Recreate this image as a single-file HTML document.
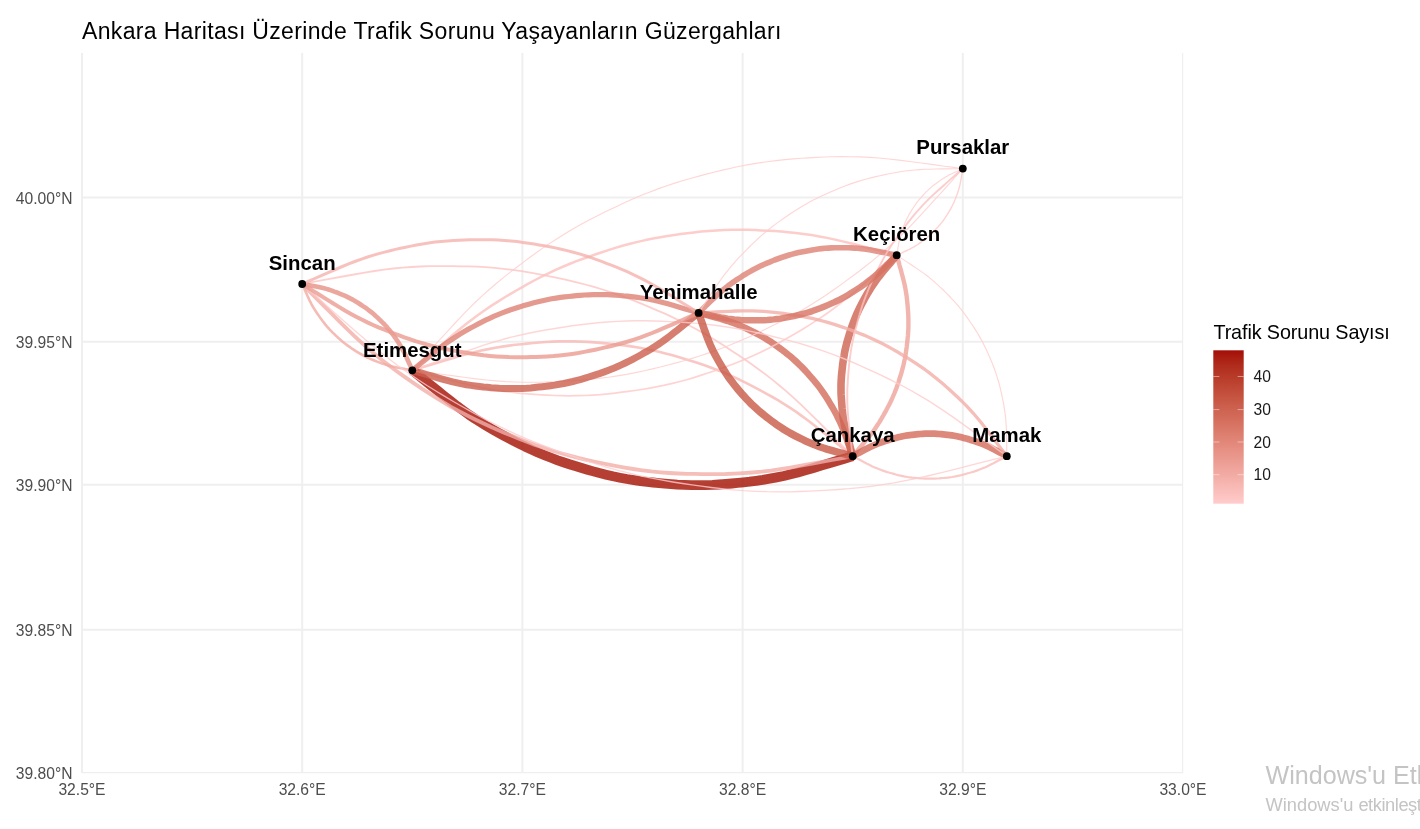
<!DOCTYPE html>
<html><head><meta charset="utf-8"><title>Ankara</title>
<style>html,body{margin:0;padding:0;background:#fff;overflow:hidden}svg{display:block;position:absolute;left:0;top:0;will-change:transform}text{font-family:"Liberation Sans",sans-serif}</style></head><body>
<svg width="1420" height="829" viewBox="0 0 1420 829">
<rect width="1420" height="829" fill="#fff"/>
<clipPath id="pc"><rect x="82.0" y="53.0" width="1101.0" height="720.0"/></clipPath>
<clipPath id="gc"><rect x="80.0" y="53.0" width="1103.2" height="720.2"/></clipPath>
<g stroke="#efefef" stroke-width="2" fill="none" clip-path="url(#gc)">
<line x1="82.0" y1="53.0" x2="82.0" y2="773.0"/>
<line x1="302.2" y1="53.0" x2="302.2" y2="773.0"/>
<line x1="522.4" y1="53.0" x2="522.4" y2="773.0"/>
<line x1="742.6" y1="53.0" x2="742.6" y2="773.0"/>
<line x1="962.8" y1="53.0" x2="962.8" y2="773.0"/>
<line x1="1183.0" y1="53.0" x2="1183.0" y2="773.0"/>
<line x1="82.0" y1="197.5" x2="1183.0" y2="197.5"/>
<line x1="82.0" y1="341.7" x2="1183.0" y2="341.7"/>
<line x1="82.0" y1="484.8" x2="1183.0" y2="484.8"/>
<line x1="82.0" y1="629.7" x2="1183.0" y2="629.7"/>
<line x1="82.0" y1="773.0" x2="1183.0" y2="773.0"/>
</g>
<g clip-path="url(#pc)">
<filter id="bl" x="-5%" y="-5%" width="110%" height="110%"><feGaussianBlur stdDeviation="0.45"/></filter>
<g fill="none" stroke-linecap="butt" stroke-linejoin="round" stroke-opacity="0.8" filter="url(#bl)">
<path d="M852.7 456.2 L852.4 456.0 L850.9 454.7 L847.3 451.8 L841.8 447.4 L835.0 441.9 L827.7 436.1 L820.8 430.5 L814.2 425.3 L808.0 420.5 L802.0 416.1 L796.2 411.9 L790.2 407.9 L784.2 404.1 L778.3 400.4 L772.4 397.0 L766.7 393.8 L761.3 390.9 L756.1 388.2 L750.9 385.4 L745.5 382.7 L739.7 379.8 L733.5 376.9 L727.1 374.0 L720.5 371.3 L713.9 368.7 L707.3 366.2 L700.9 364.0 L694.8 362.0 L688.9 360.2 L683.3 358.5 L677.6 356.8 L671.7 355.1 L665.5 353.4 L658.9 351.8 L652.0 350.2 L645.1 348.8 L638.1 347.5 L631.1 346.4 L624.4 345.4 L618.0 344.6 L611.9 344.0 L606.0 343.4 L600.2 342.9 L594.1 342.4 L587.6 341.9 L580.8 341.6 L573.8 341.4 L566.7 341.3 L559.6 341.4 L552.5 341.6 L545.8 342.0 L539.3 342.5 L533.2 343.0 L527.3 343.6 L521.5 344.2 L515.4 344.8 L509.0 345.6 L502.2 346.6 L495.3 347.8 L488.3 349.1 L481.3 350.5 L474.3 352.2 L467.1 354.0 L459.6 356.1 L451.5 358.5 L443.0 361.1 L434.1 363.7 L425.7 366.3 L419.0 368.3 L414.5 369.6 L412.6 370.2 L412.3 370.3" stroke="#f8b9b5" stroke-width="2.60"/>
<path d="M852.7 456.2 L852.8 456.1 L853.4 455.4 L854.8 453.7 L856.9 451.3 L859.4 448.2 L862.2 445.0 L864.8 441.8 L867.3 438.9 L869.5 436.1 L871.6 433.4 L873.6 430.7 L875.5 428.1 L877.3 425.3 L879.1 422.6 L880.7 420.0 L882.2 417.4 L883.6 415.0 L884.9 412.6 L886.2 410.3 L887.5 407.8 L888.9 405.2 L890.3 402.4 L891.7 399.5 L893.0 396.5 L894.3 393.5 L895.5 390.5 L896.6 387.6 L897.6 384.8 L898.5 382.1 L899.3 379.5 L900.1 377.0 L901.0 374.3 L901.8 371.4 L902.6 368.4 L903.4 365.3 L904.1 362.1 L904.8 358.9 L905.4 355.8 L905.9 352.7 L906.3 349.7 L906.7 347.0 L907.0 344.3 L907.3 341.6 L907.6 338.8 L907.9 335.9 L908.1 332.7 L908.3 329.5 L908.4 326.3 L908.4 323.0 L908.4 319.8 L908.3 316.7 L908.2 313.7 L908.0 310.9 L907.8 308.2 L907.6 305.5 L907.3 302.7 L907.0 299.8 L906.7 296.7 L906.2 293.5 L905.7 290.3 L905.1 287.0 L904.4 283.8 L903.6 280.5 L902.7 277.0 L901.7 273.3 L900.7 269.3 L899.5 265.3 L898.5 261.4 L897.6 258.3 L897.0 256.2 L896.8 255.3 L896.7 255.2" stroke="#efa39a" stroke-width="4.40"/>
<path d="M852.7 456.2 L852.8 456.2 L853.4 456.6 L854.8 457.3 L857.0 458.4 L859.6 459.8 L862.4 461.3 L865.1 462.7 L867.7 464.1 L870.1 465.3 L872.4 466.4 L874.7 467.4 L876.9 468.3 L879.2 469.2 L881.5 470.1 L883.7 470.9 L885.8 471.6 L887.8 472.2 L889.7 472.8 L891.7 473.3 L893.7 473.9 L895.8 474.5 L898.1 475.1 L900.5 475.6 L902.8 476.1 L905.2 476.6 L907.6 477.0 L909.9 477.3 L912.1 477.6 L914.2 477.8 L916.3 478.0 L918.3 478.2 L920.4 478.4 L922.6 478.5 L924.9 478.6 L927.3 478.7 L929.8 478.7 L932.2 478.7 L934.6 478.6 L937.0 478.5 L939.2 478.4 L941.3 478.2 L943.3 478.0 L945.3 477.8 L947.4 477.6 L949.6 477.3 L951.9 477.0 L954.3 476.6 L956.7 476.1 L959.1 475.6 L961.4 475.1 L963.7 474.5 L965.9 473.9 L967.9 473.3 L969.8 472.8 L971.7 472.2 L973.8 471.6 L975.9 470.9 L978.1 470.1 L980.3 469.2 L982.6 468.3 L984.9 467.4 L987.1 466.4 L989.4 465.3 L991.8 464.1 L994.4 462.7 L997.1 461.3 L999.9 459.8 L1002.6 458.4 L1004.7 457.3 L1006.1 456.6 L1006.7 456.2 L1006.8 456.2" stroke="#f9bdba" stroke-width="2.20"/>
<path d="M852.7 456.2 L852.4 455.9 L850.6 454.0 L846.4 449.8 L840.0 443.4 L832.1 435.4 L823.7 427.0 L815.6 418.8 L807.9 411.3 L800.7 404.3 L793.7 397.8 L786.7 391.6 L779.7 385.7 L772.6 379.9 L765.5 374.4 L758.5 369.2 L751.7 364.3 L745.2 359.8 L739.0 355.6 L732.7 351.4 L726.1 347.0 L719.1 342.6 L711.7 338.0 L703.9 333.4 L695.9 329.0 L687.8 324.7 L679.7 320.7 L671.8 316.9 L664.3 313.4 L657.0 310.3 L650.1 307.3 L643.1 304.4 L635.8 301.4 L628.1 298.4 L619.9 295.3 L611.3 292.4 L602.6 289.5 L593.9 286.9 L585.2 284.5 L576.7 282.3 L568.6 280.4 L560.9 278.7 L553.5 277.1 L546.1 275.6 L538.4 274.1 L530.2 272.6 L521.6 271.2 L512.6 269.9 L503.6 268.8 L494.4 267.9 L485.5 267.2 L476.7 266.7 L468.4 266.4 L460.5 266.3 L453.0 266.1 L445.4 266.1 L437.5 266.1 L429.2 266.2 L420.5 266.5 L411.5 267.0 L402.3 267.7 L393.2 268.5 L384.0 269.6 L374.6 271.0 L364.6 272.6 L354.0 274.5 L342.7 276.5 L331.0 278.7 L320.0 280.7 L311.0 282.4 L305.2 283.5 L302.6 283.9 L302.2 284.0" stroke="#fcc4c3" stroke-width="1.80"/>
<path d="M852.7 456.2 L852.6 456.0 L852.3 455.1 L851.6 453.1 L850.5 450.0 L849.2 446.1 L847.7 442.0 L846.4 438.0 L845.0 434.3 L843.7 430.9 L842.5 427.7 L841.1 424.5 L839.8 421.5 L838.3 418.5 L836.9 415.5 L835.4 412.7 L833.9 410.0 L832.5 407.5 L831.1 405.2 L829.7 402.8 L828.2 400.3 L826.6 397.7 L824.9 395.1 L823.0 392.3 L821.1 389.6 L819.1 386.9 L817.1 384.3 L815.1 381.9 L813.1 379.5 L811.2 377.4 L809.4 375.3 L807.6 373.2 L805.7 371.1 L803.6 368.9 L801.4 366.6 L799.0 364.3 L796.6 362.0 L794.1 359.7 L791.7 357.6 L789.2 355.5 L786.8 353.6 L784.6 351.8 L782.4 350.1 L780.2 348.5 L777.9 346.8 L775.4 345.0 L772.8 343.2 L770.1 341.3 L767.2 339.6 L764.4 337.8 L761.5 336.2 L758.7 334.6 L756.0 333.2 L753.5 331.9 L751.0 330.7 L748.5 329.5 L745.9 328.2 L743.2 327.0 L740.3 325.7 L737.2 324.4 L734.1 323.2 L731.0 322.1 L727.8 321.0 L724.4 320.0 L720.9 318.9 L717.1 317.9 L713.1 316.8 L708.9 315.6 L704.9 314.6 L701.7 313.7 L699.6 313.1 L698.7 312.9 L698.6 312.9" stroke="#d36b5a" stroke-width="6.60"/>
<path d="M412.3 370.3 L412.6 370.5 L414.1 371.8 L417.7 374.7 L423.2 379.1 L430.0 384.6 L437.3 390.4 L444.2 396.0 L450.8 401.2 L457.0 406.0 L463.0 410.4 L468.8 414.6 L474.8 418.6 L480.8 422.4 L486.7 426.1 L492.6 429.5 L498.3 432.7 L503.7 435.6 L508.9 438.3 L514.1 441.1 L519.5 443.8 L525.3 446.7 L531.5 449.6 L537.9 452.5 L544.5 455.2 L551.1 457.8 L557.7 460.3 L564.1 462.5 L570.2 464.5 L576.1 466.3 L581.7 468.0 L587.4 469.7 L593.3 471.4 L599.5 473.1 L606.1 474.7 L613.0 476.3 L619.9 477.7 L626.9 479.0 L633.9 480.1 L640.6 481.1 L647.0 481.9 L653.1 482.5 L659.0 483.1 L664.8 483.6 L670.9 484.1 L677.4 484.6 L684.2 484.9 L691.2 485.1 L698.3 485.2 L705.4 485.1 L712.5 484.9 L719.2 484.5 L725.7 484.0 L731.8 483.5 L737.7 482.9 L743.5 482.3 L749.6 481.7 L756.0 480.9 L762.8 479.9 L769.7 478.7 L776.7 477.4 L783.7 476.0 L790.7 474.3 L797.9 472.5 L805.4 470.4 L813.5 468.0 L822.0 465.4 L830.9 462.8 L839.3 460.2 L846.0 458.2 L850.5 456.9 L852.4 456.3 L852.7 456.2" stroke="#a40e08" stroke-width="9.80"/>
<path d="M412.3 370.3 L412.7 370.4 L414.8 371.0 L419.8 372.2 L427.4 374.2 L436.8 376.6 L446.7 379.2 L456.3 381.7 L465.3 383.9 L473.8 385.9 L481.9 387.6 L489.7 389.1 L497.5 390.4 L505.4 391.6 L513.1 392.5 L520.6 393.3 L527.8 393.9 L534.5 394.4 L541.1 394.8 L547.6 395.1 L554.4 395.5 L561.6 395.7 L569.1 395.8 L576.9 395.7 L584.8 395.5 L592.7 395.1 L600.4 394.6 L608.0 393.9 L615.1 393.1 L621.9 392.2 L628.3 391.4 L634.8 390.5 L641.5 389.5 L648.6 388.3 L656.0 386.9 L663.7 385.4 L671.4 383.6 L679.0 381.7 L686.6 379.7 L693.8 377.6 L700.7 375.4 L707.1 373.3 L713.3 371.2 L719.5 369.0 L725.9 366.8 L732.6 364.3 L739.6 361.5 L746.8 358.5 L754.0 355.3 L761.2 351.9 L768.2 348.5 L774.9 345.0 L781.2 341.6 L787.1 338.2 L792.8 335.0 L798.4 331.7 L804.2 328.2 L810.4 324.4 L816.7 320.4 L823.2 316.0 L829.7 311.5 L836.0 306.8 L842.4 301.9 L848.8 296.8 L855.5 291.2 L862.5 285.1 L870.0 278.6 L877.7 271.8 L885.0 265.4 L890.9 260.3 L894.8 256.9 L896.5 255.4 L896.7 255.2" stroke="#fec8c7" stroke-width="1.70"/>
<path d="M412.3 370.3 L412.7 370.4 L415.3 370.7 L421.3 371.5 L430.5 372.8 L441.8 374.3 L453.8 375.9 L465.3 377.5 L476.2 378.9 L486.4 380.0 L496.1 380.9 L505.5 381.6 L514.8 382.0 L524.1 382.3 L533.2 382.3 L542.1 382.2 L550.6 381.9 L558.6 381.5 L566.2 381.1 L573.9 380.6 L581.9 380.1 L590.3 379.3 L599.2 378.4 L608.3 377.3 L617.5 375.9 L626.6 374.4 L635.6 372.6 L644.3 370.8 L652.6 368.9 L660.4 367.0 L667.8 365.0 L675.2 363.1 L683.0 361.0 L691.1 358.6 L699.6 356.0 L708.3 353.1 L717.1 350.0 L725.8 346.8 L734.3 343.3 L742.4 339.8 L750.2 336.4 L757.4 333.0 L764.4 329.7 L771.3 326.3 L778.5 322.8 L786.0 318.9 L793.8 314.7 L801.8 310.2 L809.8 305.4 L817.7 300.5 L825.4 295.5 L832.7 290.5 L839.6 285.6 L846.1 280.9 L852.3 276.3 L858.4 271.7 L864.8 266.8 L871.4 261.6 L878.3 255.9 L885.2 250.0 L892.2 243.8 L899.0 237.4 L905.7 230.8 L912.5 223.9 L919.5 216.4 L926.9 208.4 L934.8 199.7 L942.9 190.8 L950.5 182.3 L956.7 175.4 L960.7 170.9 L962.5 169.0 L962.8 168.6" stroke="#ffcccc" stroke-width="1.13"/>
<path d="M412.3 370.3 L412.3 370.2 L412.0 369.7 L411.4 368.3 L410.5 366.3 L409.4 363.8 L408.2 361.2 L407.1 358.7 L406.0 356.3 L405.0 354.1 L403.9 352.0 L402.9 350.0 L401.8 348.1 L400.7 346.1 L399.5 344.3 L398.4 342.5 L397.3 340.8 L396.2 339.2 L395.1 337.7 L394.1 336.2 L393.0 334.7 L391.7 333.1 L390.4 331.4 L389.1 329.7 L387.6 328.0 L386.2 326.3 L384.7 324.7 L383.2 323.2 L381.8 321.8 L380.4 320.4 L379.1 319.2 L377.8 317.9 L376.4 316.6 L374.9 315.2 L373.3 313.8 L371.6 312.4 L369.9 311.1 L368.1 309.7 L366.4 308.4 L364.6 307.2 L362.9 306.1 L361.3 305.0 L359.8 304.0 L358.3 303.0 L356.6 302.0 L354.9 301.0 L353.1 299.9 L351.1 298.9 L349.2 297.9 L347.2 296.9 L345.2 295.9 L343.3 295.1 L341.4 294.3 L339.6 293.6 L337.9 292.9 L336.2 292.2 L334.4 291.6 L332.5 290.9 L330.5 290.2 L328.4 289.5 L326.3 288.9 L324.2 288.3 L322.0 287.8 L319.7 287.3 L317.3 286.8 L314.8 286.3 L312.0 285.8 L309.2 285.3 L306.5 284.8 L304.3 284.4 L302.9 284.2 L302.3 284.0 L302.2 284.0" stroke="#e69084" stroke-width="4.60"/>
<path d="M412.3 370.3 L412.5 370.4 L413.8 370.8 L416.6 371.6 L421.1 372.9 L426.5 374.5 L432.3 376.2 L437.9 377.9 L443.1 379.4 L448.0 380.7 L452.7 381.9 L457.3 382.9 L461.8 383.9 L466.4 384.7 L470.9 385.4 L475.3 386.0 L479.5 386.5 L483.4 387.0 L487.2 387.3 L491.1 387.7 L495.0 388.0 L499.2 388.3 L503.7 388.5 L508.2 388.6 L512.9 388.6 L517.5 388.6 L522.1 388.4 L526.5 388.2 L530.7 387.9 L534.6 387.5 L538.5 387.1 L542.3 386.7 L546.2 386.3 L550.4 385.7 L554.8 385.1 L559.3 384.3 L563.8 383.5 L568.4 382.5 L572.8 381.5 L577.1 380.4 L581.2 379.3 L585.0 378.2 L588.7 377.0 L592.3 375.9 L596.1 374.7 L600.1 373.4 L604.3 371.9 L608.6 370.3 L612.9 368.6 L617.1 366.8 L621.3 364.9 L625.3 363.0 L629.1 361.1 L632.6 359.3 L636.0 357.5 L639.3 355.7 L642.8 353.7 L646.5 351.7 L650.3 349.4 L654.2 347.0 L658.1 344.5 L661.9 341.9 L665.7 339.1 L669.6 336.2 L673.6 333.1 L677.9 329.7 L682.4 326.0 L687.1 322.2 L691.5 318.6 L695.1 315.7 L697.4 313.8 L698.4 313.0 L698.6 312.9" stroke="#cc5f4d" stroke-width="7.00"/>
<path d="M896.7 255.2 L896.6 255.3 L896.0 256.0 L894.7 257.6 L892.6 260.1 L890.0 263.2 L887.3 266.4 L884.6 269.5 L882.2 272.5 L879.9 275.3 L877.8 278.0 L875.8 280.6 L874.0 283.3 L872.1 286.0 L870.4 288.7 L868.8 291.4 L867.2 293.9 L865.8 296.4 L864.5 298.7 L863.2 301.1 L861.9 303.6 L860.5 306.2 L859.1 309.0 L857.8 311.9 L856.4 314.9 L855.2 317.9 L854.0 320.9 L852.9 323.8 L851.9 326.6 L851.0 329.3 L850.1 331.8 L849.3 334.4 L848.5 337.1 L847.7 339.9 L846.8 342.9 L846.0 346.1 L845.3 349.2 L844.6 352.4 L844.1 355.6 L843.5 358.7 L843.1 361.6 L842.7 364.4 L842.4 367.1 L842.1 369.8 L841.8 372.6 L841.5 375.5 L841.3 378.6 L841.1 381.8 L841.0 385.1 L841.0 388.4 L841.0 391.6 L841.1 394.7 L841.3 397.7 L841.5 400.5 L841.7 403.2 L841.9 405.8 L842.1 408.6 L842.4 411.6 L842.8 414.7 L843.2 417.9 L843.8 421.1 L844.4 424.3 L845.0 427.6 L845.8 430.9 L846.7 434.4 L847.7 438.1 L848.8 442.0 L849.9 446.1 L851.0 450.0 L851.9 453.1 L852.4 455.1 L852.7 456.0 L852.7 456.2" stroke="#ce6351" stroke-width="7.60"/>
<path d="M896.7 255.2 L896.4 255.1 L894.2 254.5 L889.3 253.3 L881.6 251.3 L872.2 248.9 L862.3 246.3 L852.7 243.8 L843.7 241.6 L835.2 239.6 L827.1 237.9 L819.3 236.4 L811.5 235.1 L803.7 233.9 L795.9 233.0 L788.4 232.2 L781.3 231.6 L774.5 231.1 L768.0 230.7 L761.5 230.4 L754.7 230.0 L747.5 229.8 L739.9 229.7 L732.1 229.8 L724.3 230.0 L716.4 230.4 L708.6 230.9 L701.1 231.6 L693.9 232.4 L687.2 233.3 L680.7 234.1 L674.3 235.0 L667.5 236.0 L660.4 237.2 L653.0 238.6 L645.4 240.1 L637.7 241.9 L630.0 243.8 L622.5 245.8 L615.2 247.9 L608.4 250.1 L601.9 252.2 L595.8 254.3 L589.6 256.5 L583.2 258.7 L576.4 261.2 L569.4 264.0 L562.2 267.0 L555.0 270.2 L547.9 273.6 L540.9 277.0 L534.2 280.5 L527.9 283.9 L521.9 287.3 L516.3 290.5 L510.6 293.8 L504.8 297.3 L498.7 301.1 L492.3 305.1 L485.8 309.5 L479.4 314.0 L473.0 318.7 L466.7 323.6 L460.2 328.7 L453.6 334.3 L446.5 340.4 L439.1 346.9 L431.3 353.7 L424.0 360.1 L418.1 365.2 L414.3 368.6 L412.6 370.1 L412.3 370.3" stroke="#fbc1be" stroke-width="2.50"/>
<path d="M896.7 255.2 L896.8 255.1 L897.3 254.9 L898.3 254.5 L899.8 253.7 L901.8 252.9 L903.8 251.9 L905.8 251.0 L907.6 250.1 L909.3 249.3 L910.9 248.5 L912.5 247.6 L914.0 246.8 L915.4 245.9 L916.9 245.0 L918.3 244.1 L919.5 243.2 L920.8 242.3 L921.9 241.5 L923.1 240.7 L924.3 239.8 L925.5 238.8 L926.8 237.8 L928.1 236.7 L929.4 235.6 L930.7 234.4 L931.9 233.2 L933.1 232.1 L934.2 231.0 L935.2 229.9 L936.2 228.8 L937.2 227.8 L938.2 226.7 L939.2 225.5 L940.3 224.3 L941.4 222.9 L942.4 221.6 L943.5 220.2 L944.5 218.8 L945.4 217.4 L946.3 216.1 L947.1 214.9 L947.8 213.7 L948.6 212.5 L949.3 211.2 L950.1 209.8 L950.9 208.4 L951.7 206.9 L952.5 205.3 L953.2 203.8 L954.0 202.2 L954.6 200.7 L955.2 199.3 L955.7 197.9 L956.2 196.5 L956.7 195.2 L957.3 193.8 L957.8 192.3 L958.3 190.7 L958.8 189.1 L959.2 187.5 L959.7 185.8 L960.1 184.1 L960.4 182.3 L960.8 180.4 L961.2 178.4 L961.5 176.3 L961.9 174.1 L962.2 172.0 L962.5 170.3 L962.7 169.2 L962.8 168.7 L962.8 168.6" stroke="#fec8c7" stroke-width="1.40"/>
<path d="M896.7 255.2 L896.6 255.1 L895.7 255.0 L893.6 254.5 L890.4 253.9 L886.5 253.1 L882.3 252.2 L878.3 251.4 L874.5 250.7 L870.9 250.0 L867.6 249.5 L864.3 249.0 L861.0 248.6 L857.8 248.3 L854.6 248.1 L851.4 247.9 L848.5 247.8 L845.6 247.7 L842.9 247.7 L840.2 247.7 L837.4 247.7 L834.4 247.8 L831.3 247.9 L828.1 248.1 L824.8 248.3 L821.6 248.6 L818.3 249.0 L815.2 249.5 L812.3 249.9 L809.5 250.4 L806.9 250.9 L804.2 251.4 L801.4 252.0 L798.5 252.6 L795.5 253.3 L792.4 254.1 L789.2 255.0 L786.1 256.0 L783.0 257.0 L780.1 258.0 L777.3 259.0 L774.6 260.0 L772.1 261.0 L769.6 262.1 L767.0 263.1 L764.3 264.3 L761.4 265.6 L758.5 267.0 L755.6 268.5 L752.7 270.0 L749.9 271.6 L747.2 273.2 L744.6 274.7 L742.2 276.2 L740.0 277.7 L737.7 279.2 L735.3 280.7 L732.9 282.4 L730.3 284.2 L727.8 286.1 L725.2 288.2 L722.6 290.2 L720.1 292.4 L717.5 294.7 L714.9 297.1 L712.1 299.8 L709.2 302.6 L706.1 305.6 L703.2 308.4 L700.9 310.6 L699.3 312.1 L698.7 312.8 L698.6 312.9" stroke="#de8173" stroke-width="5.60"/>
<path d="M1006.8 456.2 L1006.7 456.1 L1006.1 455.8 L1004.7 455.1 L1002.6 453.9 L999.9 452.5 L997.1 451.0 L994.4 449.6 L991.8 448.3 L989.4 447.1 L987.1 446.0 L984.9 445.0 L982.6 444.0 L980.3 443.1 L978.1 442.3 L975.9 441.5 L973.8 440.8 L971.7 440.2 L969.8 439.6 L967.9 439.0 L965.9 438.4 L963.7 437.9 L961.4 437.3 L959.1 436.7 L956.7 436.2 L954.3 435.8 L951.9 435.4 L949.6 435.1 L947.4 434.8 L945.3 434.6 L943.3 434.4 L941.3 434.2 L939.2 434.0 L937.0 433.8 L934.6 433.7 L932.2 433.6 L929.8 433.6 L927.3 433.6 L924.9 433.7 L922.6 433.8 L920.4 434.0 L918.3 434.2 L916.3 434.4 L914.2 434.6 L912.1 434.8 L909.9 435.1 L907.6 435.4 L905.2 435.8 L902.8 436.2 L900.5 436.7 L898.1 437.3 L895.8 437.9 L893.7 438.4 L891.7 439.0 L889.7 439.6 L887.8 440.2 L885.8 440.8 L883.7 441.5 L881.5 442.3 L879.2 443.1 L876.9 444.0 L874.7 445.0 L872.4 446.0 L870.1 447.1 L867.7 448.3 L865.1 449.6 L862.4 451.0 L859.6 452.5 L857.0 453.9 L854.8 455.1 L853.4 455.8 L852.8 456.1 L852.7 456.2" stroke="#d36b5a" stroke-width="6.70"/>
<path d="M1006.8 456.2 L1006.5 455.9 L1004.3 454.3 L999.3 450.7 L991.6 445.1 L982.2 438.2 L972.2 430.9 L962.5 423.9 L953.4 417.4 L944.7 411.4 L936.4 405.9 L928.3 400.7 L920.1 395.8 L911.9 391.0 L903.6 386.5 L895.6 382.3 L887.8 378.5 L880.4 374.9 L873.3 371.6 L866.1 368.3 L858.6 364.9 L850.7 361.5 L842.2 358.0 L833.5 354.6 L824.5 351.4 L815.5 348.3 L806.5 345.5 L797.8 342.9 L789.4 340.6 L781.5 338.6 L773.9 336.7 L766.2 334.8 L758.2 333.0 L749.7 331.1 L740.8 329.3 L731.6 327.7 L722.1 326.2 L712.7 325.0 L703.4 323.9 L694.3 323.1 L685.6 322.5 L677.4 322.0 L669.6 321.6 L661.7 321.3 L653.5 321.0 L644.8 320.8 L635.7 320.8 L626.3 321.0 L616.8 321.4 L607.3 322.0 L597.9 322.7 L588.9 323.7 L580.3 324.7 L572.1 325.8 L564.4 327.0 L556.6 328.2 L548.5 329.5 L539.9 331.0 L531.0 332.7 L521.8 334.7 L512.5 336.9 L503.3 339.3 L494.0 342.0 L484.5 344.9 L474.6 348.3 L464.0 351.9 L452.7 355.9 L441.0 360.1 L430.0 364.0 L421.1 367.2 L415.3 369.3 L412.7 370.2 L412.3 370.3" stroke="#ffcccc" stroke-width="1.40"/>
<path d="M1006.8 456.2 L1006.8 456.0 L1006.8 455.0 L1006.8 452.6 L1006.7 449.0 L1006.7 444.5 L1006.6 439.8 L1006.5 435.3 L1006.4 431.0 L1006.3 427.0 L1006.0 423.2 L1005.8 419.5 L1005.4 415.9 L1004.9 412.3 L1004.4 408.7 L1003.9 405.3 L1003.3 402.1 L1002.6 399.0 L1002.0 396.0 L1001.4 393.1 L1000.7 390.1 L999.9 386.8 L999.1 383.5 L998.1 380.0 L997.0 376.6 L995.9 373.1 L994.7 369.7 L993.5 366.5 L992.3 363.4 L991.1 360.5 L989.9 357.7 L988.7 355.0 L987.4 352.1 L986.0 349.1 L984.5 346.0 L982.9 342.8 L981.2 339.6 L979.4 336.4 L977.6 333.3 L975.8 330.4 L974.0 327.6 L972.3 325.0 L970.6 322.5 L968.9 320.0 L967.1 317.4 L965.1 314.7 L963.1 312.0 L960.9 309.1 L958.6 306.3 L956.2 303.6 L953.8 300.9 L951.4 298.3 L949.2 296.0 L946.9 293.7 L944.8 291.6 L942.7 289.5 L940.4 287.3 L938.0 285.1 L935.4 282.8 L932.7 280.4 L929.9 278.1 L927.1 275.8 L924.1 273.6 L921.0 271.4 L917.7 269.1 L914.2 266.7 L910.4 264.2 L906.5 261.6 L902.7 259.1 L899.7 257.1 L897.7 255.8 L896.9 255.3 L896.7 255.2" stroke="#ffcccc" stroke-width="1.13"/>
<path d="M1006.8 456.2 L1006.7 456.0 L1005.8 454.8 L1003.7 452.0 L1000.4 447.7 L996.4 442.4 L992.1 436.8 L988.1 431.5 L984.2 426.5 L980.5 421.8 L976.9 417.5 L973.3 413.3 L969.7 409.3 L966.0 405.4 L962.2 401.6 L958.5 398.0 L955.0 394.7 L951.5 391.5 L948.2 388.6 L944.9 385.6 L941.4 382.6 L937.6 379.4 L933.6 376.2 L929.4 372.9 L925.1 369.7 L920.7 366.6 L916.3 363.6 L912.0 360.8 L907.8 358.2 L903.8 355.7 L900.0 353.5 L896.2 351.2 L892.1 348.9 L887.8 346.5 L883.3 344.1 L878.5 341.7 L873.7 339.4 L868.8 337.2 L863.9 335.1 L859.1 333.2 L854.5 331.4 L850.1 329.8 L845.9 328.3 L841.7 326.9 L837.3 325.4 L832.7 323.9 L827.7 322.4 L822.6 321.0 L817.4 319.6 L812.1 318.4 L806.9 317.3 L801.9 316.3 L797.0 315.5 L792.4 314.8 L788.0 314.1 L783.6 313.5 L779.0 312.9 L774.1 312.3 L769.0 311.8 L763.7 311.4 L758.3 311.1 L752.9 310.9 L747.5 310.8 L741.8 310.9 L735.9 311.0 L729.6 311.3 L722.8 311.6 L715.8 312.0 L709.2 312.3 L703.8 312.6 L700.3 312.8 L698.8 312.8 L698.6 312.9" stroke="#f3aea7" stroke-width="3.30"/>
<path d="M962.8 168.6 L962.6 168.8 L961.6 169.7 L959.2 171.8 L955.5 175.0 L951.0 178.9 L946.3 183.1 L941.7 187.2 L937.4 191.0 L933.4 194.6 L929.7 198.1 L926.2 201.6 L922.8 205.2 L919.5 208.8 L916.3 212.4 L913.3 215.9 L910.5 219.4 L907.9 222.7 L905.4 225.9 L903.0 229.1 L900.4 232.4 L897.8 236.0 L895.1 239.8 L892.4 243.8 L889.8 247.9 L887.2 252.1 L884.8 256.3 L882.6 260.3 L880.5 264.3 L878.5 268.0 L876.7 271.6 L874.9 275.2 L873.1 279.0 L871.2 283.0 L869.3 287.3 L867.5 291.8 L865.7 296.3 L864.0 300.9 L862.4 305.4 L861.0 309.9 L859.7 314.1 L858.5 318.2 L857.4 322.1 L856.4 325.9 L855.3 330.0 L854.2 334.3 L853.2 338.9 L852.2 343.6 L851.3 348.4 L850.6 353.2 L849.9 358.0 L849.3 362.6 L848.9 367.0 L848.5 371.2 L848.2 375.3 L847.9 379.3 L847.7 383.5 L847.4 387.9 L847.3 392.6 L847.3 397.4 L847.3 402.3 L847.5 407.2 L847.8 412.1 L848.2 417.2 L848.7 422.6 L849.3 428.3 L850.1 434.3 L850.8 440.7 L851.5 446.6 L852.1 451.4 L852.5 454.6 L852.7 456.0 L852.7 456.2" stroke="#fbc1be" stroke-width="1.90"/>
<path d="M962.8 168.6 L962.4 168.6 L959.8 168.2 L953.8 167.4 L944.6 166.2 L933.3 164.6 L921.3 163.0 L909.8 161.5 L898.9 160.1 L888.7 159.0 L879.0 158.0 L869.6 157.4 L860.3 156.9 L851.0 156.7 L841.9 156.6 L833.0 156.7 L824.5 157.0 L816.5 157.4 L808.9 157.9 L801.2 158.3 L793.2 158.9 L784.8 159.6 L775.9 160.6 L766.8 161.7 L757.6 163.1 L748.5 164.6 L739.5 166.3 L730.8 168.2 L722.5 170.1 L714.7 172.0 L707.3 173.9 L699.9 175.9 L692.1 178.0 L684.0 180.3 L675.5 182.9 L666.8 185.8 L658.0 188.9 L649.3 192.2 L640.8 195.6 L632.7 199.1 L624.9 202.6 L617.7 206.0 L610.7 209.3 L603.8 212.6 L596.6 216.2 L589.1 220.1 L581.3 224.3 L573.3 228.8 L565.3 233.5 L557.4 238.4 L549.7 243.4 L542.4 248.4 L535.5 253.3 L529.0 258.0 L522.8 262.6 L516.7 267.3 L510.3 272.1 L503.7 277.4 L496.8 283.0 L489.9 289.0 L482.9 295.2 L476.1 301.5 L469.4 308.1 L462.6 315.1 L455.6 322.5 L448.2 330.6 L440.3 339.2 L432.2 348.2 L424.6 356.7 L418.4 363.6 L414.4 368.0 L412.6 370.0 L412.3 370.3" stroke="#ffcccc" stroke-width="1.13"/>
<path d="M962.8 168.6 L962.7 168.7 L962.3 168.9 L961.3 169.3 L959.7 170.1 L957.8 171.0 L955.7 171.9 L953.8 172.8 L951.9 173.7 L950.2 174.5 L948.6 175.3 L947.1 176.2 L945.6 177.0 L944.1 177.9 L942.7 178.8 L941.3 179.7 L940.0 180.6 L938.8 181.5 L937.6 182.3 L936.5 183.2 L935.3 184.0 L934.0 185.0 L932.7 186.0 L931.4 187.1 L930.1 188.2 L928.8 189.4 L927.6 190.6 L926.4 191.7 L925.3 192.9 L924.3 193.9 L923.3 195.0 L922.4 196.0 L921.4 197.1 L920.3 198.3 L919.2 199.6 L918.2 200.9 L917.1 202.2 L916.1 203.6 L915.1 205.0 L914.2 206.4 L913.3 207.7 L912.5 208.9 L911.7 210.2 L911.0 211.4 L910.2 212.6 L909.4 214.0 L908.6 215.4 L907.8 216.9 L907.0 218.5 L906.3 220.0 L905.6 221.6 L904.9 223.1 L904.3 224.6 L903.8 225.9 L903.3 227.3 L902.8 228.6 L902.3 230.0 L901.8 231.5 L901.3 233.1 L900.8 234.7 L900.3 236.4 L899.9 238.0 L899.5 239.7 L899.1 241.5 L898.7 243.4 L898.4 245.4 L898.0 247.5 L897.7 249.7 L897.3 251.8 L897.0 253.5 L896.8 254.6 L896.8 255.1 L896.7 255.2" stroke="#ffcccc" stroke-width="1.13"/>
<path d="M962.8 168.6 L962.6 168.6 L961.2 168.7 L958.1 168.7 L953.4 168.8 L947.5 168.9 L941.3 168.9 L935.3 169.0 L929.7 169.2 L924.4 169.3 L919.5 169.6 L914.6 170.0 L909.9 170.5 L905.1 171.0 L900.5 171.7 L896.0 172.5 L891.7 173.2 L887.7 174.0 L883.8 174.9 L879.9 175.7 L875.9 176.6 L871.7 177.6 L867.3 178.7 L862.8 180.0 L858.2 181.4 L853.6 182.9 L849.2 184.4 L844.9 186.0 L840.9 187.6 L837.1 189.2 L833.5 190.7 L829.8 192.3 L826.1 193.9 L822.1 195.7 L818.0 197.7 L813.8 199.8 L809.6 202.1 L805.4 204.4 L801.3 206.8 L797.5 209.2 L793.8 211.5 L790.4 213.8 L787.1 216.0 L783.8 218.2 L780.5 220.6 L776.9 223.1 L773.3 225.9 L769.6 228.8 L765.9 231.8 L762.2 234.9 L758.7 238.0 L755.4 241.1 L752.2 244.1 L749.3 247.0 L746.5 249.8 L743.8 252.6 L740.9 255.6 L737.9 258.7 L734.9 262.1 L731.8 265.7 L728.7 269.3 L725.7 273.1 L722.8 276.9 L719.9 281.0 L716.9 285.3 L713.8 290.0 L710.4 294.9 L707.0 300.1 L703.8 305.0 L701.1 309.0 L699.4 311.5 L698.7 312.7 L698.6 312.9" stroke="#ffcccc" stroke-width="1.13"/>
<path d="M302.2 284.0 L302.5 284.3 L304.3 286.2 L308.5 290.4 L314.9 296.8 L322.8 304.8 L331.2 313.2 L339.3 321.4 L347.0 328.9 L354.2 335.9 L361.2 342.4 L368.2 348.6 L375.2 354.5 L382.3 360.3 L389.4 365.8 L396.4 371.0 L403.2 375.9 L409.7 380.4 L415.9 384.6 L422.2 388.8 L428.8 393.2 L435.8 397.6 L443.2 402.2 L451.0 406.8 L459.0 411.2 L467.1 415.5 L475.2 419.5 L483.1 423.3 L490.6 426.8 L497.9 429.9 L504.8 432.9 L511.8 435.8 L519.1 438.8 L526.8 441.8 L535.0 444.9 L543.6 447.8 L552.3 450.7 L561.0 453.3 L569.7 455.7 L578.2 457.9 L586.3 459.8 L594.0 461.5 L601.4 463.1 L608.8 464.6 L616.5 466.1 L624.7 467.6 L633.3 469.0 L642.3 470.3 L651.3 471.4 L660.5 472.3 L669.4 473.0 L678.2 473.5 L686.5 473.8 L694.4 473.9 L701.9 474.1 L709.5 474.1 L717.4 474.1 L725.7 474.0 L734.4 473.7 L743.4 473.2 L752.6 472.5 L761.7 471.7 L770.9 470.6 L780.3 469.2 L790.3 467.6 L800.9 465.7 L812.2 463.7 L823.9 461.5 L834.9 459.5 L843.9 457.8 L849.7 456.7 L852.3 456.3 L852.7 456.2" stroke="#f3aea7" stroke-width="3.80"/>
<path d="M302.2 284.0 L302.2 284.1 L302.5 284.7 L303.1 286.0 L304.0 288.0 L305.1 290.5 L306.3 293.1 L307.4 295.7 L308.5 298.1 L309.5 300.3 L310.6 302.3 L311.6 304.3 L312.7 306.3 L313.8 308.2 L315.0 310.1 L316.1 311.8 L317.2 313.5 L318.3 315.1 L319.4 316.6 L320.4 318.1 L321.5 319.6 L322.8 321.3 L324.1 322.9 L325.4 324.6 L326.9 326.3 L328.3 328.0 L329.8 329.6 L331.3 331.1 L332.7 332.6 L334.1 333.9 L335.4 335.2 L336.7 336.4 L338.1 337.7 L339.6 339.1 L341.2 340.5 L342.9 341.9 L344.6 343.3 L346.4 344.6 L348.1 345.9 L349.9 347.1 L351.6 348.3 L353.2 349.3 L354.7 350.3 L356.2 351.3 L357.9 352.3 L359.6 353.3 L361.4 354.4 L363.4 355.5 L365.3 356.5 L367.3 357.5 L369.3 358.4 L371.2 359.3 L373.1 360.0 L374.9 360.8 L376.6 361.4 L378.3 362.1 L380.1 362.8 L382.0 363.5 L384.0 364.1 L386.1 364.8 L388.2 365.4 L390.3 366.0 L392.5 366.6 L394.8 367.1 L397.2 367.6 L399.7 368.0 L402.5 368.5 L405.3 369.1 L408.0 369.5 L410.2 369.9 L411.6 370.2 L412.2 370.3 L412.3 370.3" stroke="#f2aaa3" stroke-width="2.60"/>
<path d="M302.2 284.0 L302.6 284.4 L305.0 286.5 L310.6 291.5 L319.2 299.1 L329.8 308.5 L341.0 318.4 L351.8 327.9 L362.0 336.8 L371.7 345.0 L381.0 352.6 L390.1 359.8 L399.4 366.7 L408.8 373.3 L418.2 379.7 L427.4 385.7 L436.3 391.2 L444.8 396.4 L452.9 401.2 L461.2 406.0 L469.8 410.9 L478.9 416.0 L488.6 421.1 L498.8 426.2 L509.2 431.2 L519.7 435.9 L530.1 440.3 L540.3 444.4 L550.1 448.1 L559.4 451.5 L568.4 454.7 L577.4 457.8 L586.7 461.0 L596.7 464.2 L607.2 467.3 L618.2 470.4 L629.3 473.2 L640.5 475.8 L651.6 478.2 L662.4 480.2 L672.8 482.0 L682.6 483.5 L692.0 484.9 L701.4 486.2 L711.2 487.5 L721.6 488.7 L732.5 489.8 L743.9 490.7 L755.3 491.3 L766.8 491.7 L778.2 491.8 L789.2 491.8 L799.6 491.5 L809.6 491.1 L819.0 490.6 L828.5 490.1 L838.4 489.5 L848.9 488.7 L859.8 487.6 L871.1 486.3 L882.5 484.7 L893.9 482.9 L905.3 480.7 L917.1 478.3 L929.4 475.5 L942.6 472.3 L956.6 468.8 L971.1 465.2 L984.8 461.7 L995.9 458.9 L1003.2 457.1 L1006.3 456.3 L1006.8 456.2" stroke="#ffcccc" stroke-width="1.30"/>
<path d="M302.2 284.0 L302.4 284.2 L304.0 285.1 L307.4 287.3 L312.8 290.6 L319.3 294.7 L326.3 299.1 L333.0 303.2 L339.3 307.1 L345.3 310.7 L351.0 313.9 L356.6 316.9 L362.2 319.8 L367.9 322.6 L373.6 325.2 L379.1 327.6 L384.4 329.7 L389.4 331.7 L394.3 333.6 L399.2 335.4 L404.3 337.3 L409.7 339.2 L415.4 341.1 L421.4 342.9 L427.4 344.7 L433.5 346.3 L439.6 347.7 L445.4 349.0 L451.1 350.1 L456.4 351.1 L461.5 352.0 L466.7 352.8 L472.0 353.7 L477.7 354.5 L483.7 355.3 L489.9 355.9 L496.2 356.4 L502.5 356.8 L508.7 357.1 L514.7 357.2 L520.4 357.2 L525.9 357.2 L531.1 357.0 L536.3 356.9 L541.7 356.7 L547.4 356.4 L553.4 356.0 L559.6 355.4 L565.9 354.7 L572.1 353.9 L578.3 353.0 L584.2 351.9 L589.8 350.8 L595.2 349.7 L600.2 348.6 L605.3 347.4 L610.6 346.2 L616.2 344.8 L622.0 343.2 L628.0 341.5 L634.0 339.6 L640.0 337.6 L645.9 335.4 L652.1 333.0 L658.5 330.3 L665.3 327.4 L672.6 324.3 L680.1 321.0 L687.2 317.9 L692.9 315.3 L696.7 313.7 L698.3 313.0 L698.6 312.9" stroke="#eb9b91" stroke-width="4.00"/>
<path d="M698.6 312.9 L698.6 313.0 L698.9 313.9 L699.6 315.9 L700.7 319.1 L702.1 323.0 L703.5 327.1 L704.9 331.0 L706.2 334.7 L707.5 338.1 L708.8 341.4 L710.1 344.5 L711.5 347.6 L712.9 350.6 L714.4 353.5 L715.9 356.3 L717.4 359.0 L718.8 361.5 L720.2 363.9 L721.6 366.2 L723.1 368.7 L724.7 371.3 L726.4 374.0 L728.2 376.7 L730.2 379.4 L732.2 382.1 L734.2 384.7 L736.2 387.2 L738.1 389.5 L740.0 391.7 L741.8 393.8 L743.7 395.8 L745.6 397.9 L747.7 400.2 L749.9 402.5 L752.2 404.8 L754.7 407.1 L757.1 409.3 L759.6 411.5 L762.1 413.5 L764.4 415.4 L766.7 417.2 L768.9 418.9 L771.1 420.6 L773.4 422.3 L775.8 424.1 L778.5 425.9 L781.2 427.7 L784.0 429.5 L786.9 431.2 L789.7 432.9 L792.5 434.4 L795.2 435.8 L797.8 437.1 L800.3 438.3 L802.7 439.5 L805.3 440.8 L808.1 442.1 L811.0 443.3 L814.0 444.6 L817.2 445.8 L820.3 447.0 L823.5 448.0 L826.8 449.1 L830.4 450.1 L834.1 451.2 L838.2 452.3 L842.4 453.4 L846.3 454.5 L849.6 455.3 L851.6 455.9 L852.6 456.1 L852.7 456.2" stroke="#c85845" stroke-width="7.50"/>
<path d="M698.6 312.9 L698.4 312.8 L697.1 312.4 L694.2 311.6 L689.8 310.3 L684.3 308.7 L678.6 306.9 L673.0 305.3 L667.8 303.8 L662.8 302.5 L658.1 301.3 L653.6 300.2 L649.0 299.3 L644.5 298.5 L640.0 297.8 L635.6 297.1 L631.4 296.6 L627.4 296.2 L623.6 295.9 L619.8 295.5 L615.8 295.2 L611.6 294.9 L607.2 294.7 L602.6 294.6 L598.0 294.5 L593.4 294.6 L588.8 294.8 L584.4 295.0 L580.2 295.3 L576.2 295.7 L572.4 296.1 L568.6 296.5 L564.6 296.9 L560.5 297.4 L556.1 298.1 L551.6 298.8 L547.0 299.7 L542.5 300.7 L538.0 301.7 L533.8 302.8 L529.7 303.9 L525.9 305.0 L522.2 306.1 L518.5 307.3 L514.7 308.5 L510.7 309.8 L506.6 311.3 L502.3 312.9 L498.0 314.6 L493.7 316.4 L489.6 318.3 L485.6 320.2 L481.8 322.1 L478.3 323.9 L474.9 325.7 L471.5 327.5 L468.0 329.4 L464.3 331.5 L460.5 333.8 L456.7 336.2 L452.8 338.7 L448.9 341.3 L445.1 344.0 L441.3 346.9 L437.2 350.1 L433.0 353.5 L428.5 357.1 L423.8 360.9 L419.4 364.5 L415.8 367.5 L413.5 369.4 L412.5 370.2 L412.3 370.3" stroke="#de8173" stroke-width="5.20"/>
<path d="M698.6 312.9 L698.7 312.9 L699.6 313.1 L701.7 313.5 L704.9 314.2 L708.8 315.0 L713.0 315.8 L717.0 316.6 L720.8 317.4 L724.4 318.0 L727.7 318.6 L731.0 319.0 L734.3 319.4 L737.5 319.7 L740.7 320.0 L743.9 320.1 L746.8 320.2 L749.7 320.3 L752.4 320.3 L755.1 320.3 L757.9 320.3 L760.9 320.3 L764.0 320.2 L767.2 320.0 L770.5 319.7 L773.7 319.4 L777.0 319.0 L780.1 318.6 L783.0 318.1 L785.8 317.6 L788.4 317.1 L791.1 316.6 L793.9 316.1 L796.8 315.4 L799.8 314.7 L802.9 313.9 L806.1 313.0 L809.2 312.1 L812.3 311.1 L815.2 310.0 L818.0 309.0 L820.7 308.0 L823.2 307.0 L825.7 306.0 L828.3 304.9 L831.0 303.7 L833.9 302.4 L836.8 301.0 L839.7 299.6 L842.6 298.0 L845.4 296.5 L848.1 294.9 L850.7 293.3 L853.1 291.8 L855.3 290.4 L857.6 288.9 L860.0 287.3 L862.4 285.6 L865.0 283.8 L867.5 281.9 L870.1 279.9 L872.7 277.8 L875.2 275.7 L877.8 273.4 L880.4 270.9 L883.2 268.3 L886.1 265.4 L889.2 262.5 L892.1 259.7 L894.4 257.4 L896.0 255.9 L896.6 255.3 L896.7 255.2" stroke="#d77262" stroke-width="6.40"/>
<path d="M698.6 312.9 L698.3 312.7 L696.8 311.8 L693.3 309.6 L688.0 306.3 L681.4 302.2 L674.5 297.8 L667.8 293.6 L661.5 289.8 L655.5 286.2 L649.8 283.0 L644.1 279.9 L638.5 277.1 L632.8 274.3 L627.2 271.7 L621.7 269.3 L616.4 267.1 L611.3 265.2 L606.4 263.3 L601.6 261.4 L596.5 259.6 L591.1 257.7 L585.3 255.8 L579.4 253.9 L573.3 252.2 L567.2 250.6 L561.2 249.2 L555.3 247.9 L549.7 246.8 L544.3 245.8 L539.2 244.9 L534.1 244.0 L528.7 243.2 L523.0 242.4 L517.1 241.6 L510.9 241.0 L504.6 240.4 L498.3 240.0 L492.1 239.8 L486.1 239.7 L480.3 239.7 L474.9 239.7 L469.7 239.8 L464.5 240.0 L459.1 240.2 L453.3 240.5 L447.3 240.9 L441.1 241.4 L434.9 242.1 L428.6 243.0 L422.5 243.9 L416.5 245.0 L410.9 246.1 L405.6 247.2 L400.5 248.3 L395.4 249.4 L390.1 250.7 L384.6 252.1 L378.8 253.6 L372.8 255.4 L366.8 257.3 L360.8 259.3 L354.8 261.5 L348.7 263.9 L342.3 266.5 L335.4 269.5 L328.2 272.6 L320.7 275.9 L313.6 279.0 L307.8 281.5 L304.1 283.2 L302.5 283.9 L302.2 284.0" stroke="#f5b2ac" stroke-width="3.00"/>
</g>
<circle cx="302.2" cy="284.0" r="3.9" fill="#000"/>
<circle cx="412.3" cy="370.3" r="3.9" fill="#000"/>
<circle cx="698.6" cy="312.9" r="3.9" fill="#000"/>
<circle cx="896.7" cy="255.2" r="3.9" fill="#000"/>
<circle cx="962.8" cy="168.6" r="3.9" fill="#000"/>
<circle cx="852.7" cy="456.2" r="3.9" fill="#000"/>
<circle cx="1006.8" cy="456.2" r="3.9" fill="#000"/>
</g>
<g font-size="20.4" font-weight="bold" fill="#000" text-anchor="middle">
<text x="302.2" y="269.8">Sincan</text>
<text x="412.3" y="356.6">Etimesgut</text>
<text x="698.6" y="298.7">Yenimahalle</text>
<text x="896.7" y="241.0">Keçiören</text>
<text x="962.8" y="154.4">Pursaklar</text>
<text x="852.7" y="442.0">Çankaya</text>
<text x="1006.8" y="442.0">Mamak</text>
</g>
<g font-size="15.65" fill="#4d4d4d">
<text x="72.5" y="203.9" text-anchor="end">40.00°N</text>
<text x="72.5" y="348.1" text-anchor="end">39.95°N</text>
<text x="72.5" y="491.2" text-anchor="end">39.90°N</text>
<text x="72.5" y="636.1" text-anchor="end">39.85°N</text>
<text x="72.5" y="779.4" text-anchor="end">39.80°N</text>
<text x="82.0" y="794.8" text-anchor="middle">32.5°E</text>
<text x="302.2" y="794.8" text-anchor="middle">32.6°E</text>
<text x="522.4" y="794.8" text-anchor="middle">32.7°E</text>
<text x="742.6" y="794.8" text-anchor="middle">32.8°E</text>
<text x="962.8" y="794.8" text-anchor="middle">32.9°E</text>
<text x="1183.0" y="794.8" text-anchor="middle">33.0°E</text>
</g>
<text x="82" y="38.9" font-size="23" textLength="699.4" lengthAdjust="spacing" fill="#000">Ankara Haritası Üzerinde Trafik Sorunu Yaşayanların Güzergahları</text>
<text x="1213.4" y="339.1" font-size="19.8" textLength="176.3" lengthAdjust="spacing" fill="#000">Trafik Sorunu Sayısı</text>
<defs><linearGradient id="cb" x1="0" y1="1" x2="0" y2="0">
<stop offset="0.000" stop-color="#ffcccc"/>
<stop offset="0.050" stop-color="#fcc3c1"/>
<stop offset="0.100" stop-color="#f9bbb7"/>
<stop offset="0.150" stop-color="#f5b2ac"/>
<stop offset="0.200" stop-color="#f1a9a2"/>
<stop offset="0.250" stop-color="#eea198"/>
<stop offset="0.300" stop-color="#ea988d"/>
<stop offset="0.350" stop-color="#e69083"/>
<stop offset="0.400" stop-color="#e2877a"/>
<stop offset="0.450" stop-color="#dd7f70"/>
<stop offset="0.500" stop-color="#d97666"/>
<stop offset="0.550" stop-color="#d46d5c"/>
<stop offset="0.600" stop-color="#cf6553"/>
<stop offset="0.650" stop-color="#ca5c4a"/>
<stop offset="0.700" stop-color="#c55340"/>
<stop offset="0.750" stop-color="#c04a37"/>
<stop offset="0.800" stop-color="#bb402e"/>
<stop offset="0.850" stop-color="#b53625"/>
<stop offset="0.900" stop-color="#b02c1c"/>
<stop offset="0.950" stop-color="#aa1f12"/>
<stop offset="1.000" stop-color="#a40e08"/>
</linearGradient></defs>
<rect x="1213.3" y="350.3" width="30.4" height="153.4" fill="url(#cb)"/>
<g stroke="#fff" stroke-width="0.9" stroke-opacity="0.5">
<line x1="1213.3" y1="376.5" x2="1219.3999999999999" y2="376.5"/><line x1="1237.6000000000001" y1="376.5" x2="1243.7" y2="376.5"/>
<line x1="1213.3" y1="409.6" x2="1219.3999999999999" y2="409.6"/><line x1="1237.6000000000001" y1="409.6" x2="1243.7" y2="409.6"/>
<line x1="1213.3" y1="442.0" x2="1219.3999999999999" y2="442.0"/><line x1="1237.6000000000001" y1="442.0" x2="1243.7" y2="442.0"/>
<line x1="1213.3" y1="474.7" x2="1219.3999999999999" y2="474.7"/><line x1="1237.6000000000001" y1="474.7" x2="1243.7" y2="474.7"/>
</g>
<g font-size="15.65" fill="#1a1a1a">
<text x="1253.5" y="382.1">40</text>
<text x="1253.5" y="415.2">30</text>
<text x="1253.5" y="447.6">20</text>
<text x="1253.5" y="480.3">10</text>
</g>
<g fill="#c4c4c4"><text x="1265.5" y="784" font-size="25.1">Windows'u Etkinleştir</text>
<text x="1265.5" y="811" font-size="18.3">Windows'u <tspan letter-spacing="-0.45">etkinleştirmek için Ayarlar'a gidin.</tspan></text></g>
</svg></body></html>
